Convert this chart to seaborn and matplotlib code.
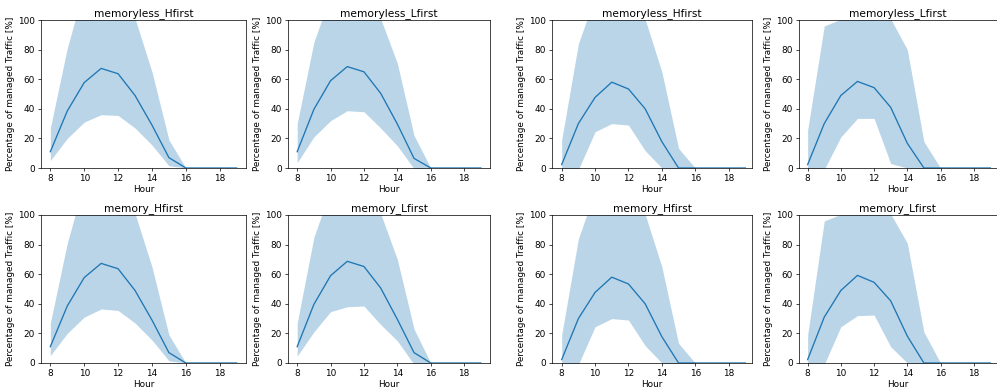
import numpy as np
import pandas as pd
import matplotlib
matplotlib.use("Agg")
import matplotlib.pyplot as plt
import seaborn as sns

hours = [8, 9, 10, 11, 12, 13, 14, 15, 16, 17, 18, 19]

titles = ["memoryless_Hfirst", "memoryless_Lfirst", "memoryless_Hfirst", "memoryless_Lfirst",
          "memory_Hfirst", "memory_Lfirst", "memory_Hfirst", "memory_Lfirst"]

mean_1 = [11, 38.5, 57.7, 67.3, 63.7, 49, 29, 7, 0, 0, 0, 0]
upper_1 = [27, 81, 122, 125, 118, 101, 65, 19, 0, 0, 0, 0]
lower_1 = [5, 20, 31, 36, 35.5, 27, 15.5, 1.5, 0, 0, 0, 0]

mean_2 = [11, 39.6, 59, 68.5, 65, 50.5, 29.7, 6.5, 0, 0, 0, 0]
upper_2 = [30, 85, 117, 122, 118, 101, 70.7, 22, 0, 0, 0, 0]
lower_2 = [3.6, 21, 32, 38.7, 38, 27, 15, -0.5, 0, 0, 0, 0]

mean_3 = [2.3, 30, 47.7, 58, 53.4, 40, 17.8, 0, 0, 0, 0, 0]
upper_3 = [19, 84, 116, 120, 115, 100.5, 65, 13.3, 0, 0, 0, 0]
lower_3 = [-15, -1, 24.5, 30, 29, 11.7, 0, -5, 0, 0, 0, 0]

mean_4 = [2.3, 30, 49, 58.5, 54.3, 41, 16.7, 0, 0, 0, 0, 0]
upper_4 = [25.7, 96, 100.5, 110, 110, 100.8, 80, 17.8, 0, 0, 0, 0]
lower_4 = [-20, -1, 21, 33.5, 33.5, 3, 0, -3, 0, 0, 0, 0]

mean_5 = [11, 38.5, 57.7, 67.3, 63.7, 49, 29, 7, 0, 0, 0, 0]
upper_5 = [27, 81, 122, 125, 118, 101, 65, 19, 0, 0, 0, 0]
lower_5 = [5, 20, 31, 36.5, 35.5, 27, 15.5, 1.5, 0, 0, 0, 0]

mean_6 = [11, 39.6, 59, 68.7, 65.2, 50.7, 29.5, 7, 0, 0, 0, 0]
upper_6 = [27, 85, 117, 122, 118, 101, 70, 23, 0, 0, 0, 0]
lower_6 = [4.7, 21, 34.7, 38, 38.5, 26, 15, -1, 0, 0, 0, 0]

mean_7 = [2.3, 30, 47.7, 58, 53.4, 40, 17.8, 0, 0, 0, 0, 0]
upper_7 = [19, 84, 116, 120, 115, 100.5, 65, 13.3, 0, 0, 0, 0]
lower_7 = [-15, -1, 24.5, 30, 29, 11.7, 0, -5, 0, 0, 0, 0]

mean_8 = [2.3, 31, 49, 59.2, 54.5, 42, 18.2, 0, 0, 0, 0, 0]
upper_8 = [19, 96, 100.5, 110, 110, 100.8, 81, 21, 0, 0, 0, 0]
lower_8 = [-20, -1, 24.5, 32, 32.4, 11, 0, -3, 0, 0, 0, 0]

means = [mean_1, mean_2, mean_3, mean_4, mean_5, mean_6, mean_7, mean_8]
uppers = [upper_1, upper_2, upper_3, upper_4, upper_5, upper_6, upper_7, upper_8]
lowers = [lower_1, lower_2, lower_3, lower_4, lower_5, lower_6, lower_7, lower_8]

W, H, DPI = 997, 389, 64
fig = plt.figure(figsize=(W / DPI, H / DPI), dpi=DPI)

# pixel boxes: (left, right) for columns, (top, bottom) for rows
cols = [(41, 246), (288, 490), (552, 752), (799, 996.5)]
rows = [(20, 168), (215, 363)]
xlims = [(7.45, 19.55), (7.45, 19.55), (7.42, 19.4), (7.48, 19.37)]

blue = sns.color_palette("tab10")[0]

for i in range(8):
    r, c = divmod(i, 4)
    l, rr = cols[c]
    t, b = rows[r]
    ax = fig.add_axes([l / W, (H - b) / H, (rr - l) / W, (b - t) / H])
    df = pd.DataFrame({"Hour": hours, "mean": means[i]})
    ax.fill_between(hours, lowers[i], uppers[i], color=blue, alpha=0.3, linewidth=0)
    sns.lineplot(data=df, x="Hour", y="mean", ax=ax, color=blue, linewidth=1.5)
    ax.set_ylim(0, 100)
    ax.set_xlim(*xlims[c])
    ax.set_xticks([8, 10, 12, 14, 16, 18])
    ax.set_yticks([0, 20, 40, 60, 80, 100])
    ax.set_title(titles[i], fontsize=12, pad=4)
    ax.set_xlabel("Hour", fontsize=10, labelpad=2)
    ax.set_ylabel("Percentage of managed Traffic [%]", fontsize=10, labelpad=3)
    ax.tick_params(labelsize=10)

fig.savefig("out.png", dpi=DPI)
